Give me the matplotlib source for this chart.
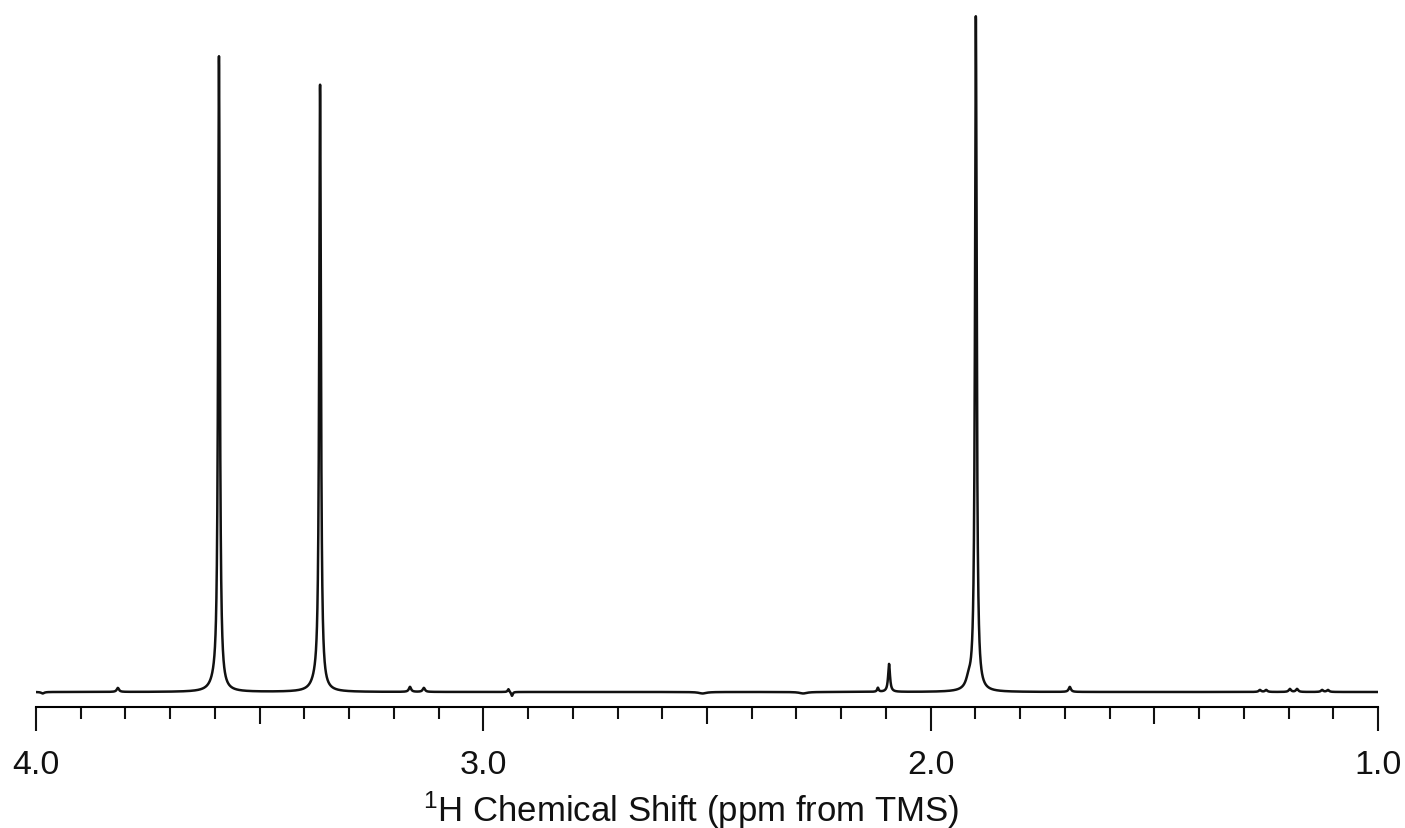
import numpy as np
import matplotlib.pyplot as plt

plt.rcParams['font.family'] = ['Liberation Sans', 'DejaVu Sans']
plt.rcParams['mathtext.default'] = 'regular'

# Peak list: shift (ppm), height (arb.), half width (ppm)
shifts = [3.591, 3.365, 1.899, 2.093, 2.118, 1.915, 3.600, 3.375,
          3.817, 3.164, 3.133, 2.944, 2.936, 1.689,
          1.264, 1.250, 1.197, 1.181, 1.125, 1.112,
          2.510, 2.285, 3.985]
heights = [632, 604, 675, 28, 4, 9, 6, 6,
           4, 5, 4, 3, -4, 5,
           2, 2, 3, 3, 2, 2,
           -1.5, -1.5, -1.5]
widths = [0.0023, 0.0023, 0.0023, 0.0025, 0.002, 0.007, 0.012, 0.012,
          0.003, 0.003, 0.003, 0.002, 0.002, 0.003,
          0.003, 0.003, 0.003, 0.003, 0.003, 0.003,
          0.01, 0.01, 0.004]

ppm = np.linspace(4.0, 1.0, 12000)
spectrum = np.zeros_like(ppm)
for x0, h, g in zip(shifts, heights, widths):
    spectrum += h * g**2 / ((ppm - x0)**2 + g**2)

fig = plt.figure(figsize=(14.05, 8.29), dpi=100)
ax = fig.add_axes([36/1405, 1 - 708/829, 1342/1405, 698/829])
ax.plot(ppm, spectrum, color='#111111', lw=1.8)

ax.set_xlim(4.0, 1.0)
ax.set_ylim(-15, 683)
for s in ['top', 'left', 'right']:
    ax.spines[s].set_visible(False)
ax.spines['bottom'].set_linewidth(1.5)
ax.set_yticks([])

major = np.arange(1.0, 4.01, 0.5)
ax.set_xticks(major)
ax.set_xticklabels(['%.1f' % v if abs(v - round(v)) < 1e-6 else '' for v in major])
ax.set_xticks(np.arange(1.0, 4.01, 0.1), minor=True)
ax.tick_params(axis='x', which='major', direction='out', length=17, width=1.5,
               labelsize=24.5, pad=13, colors='#111111')
ax.tick_params(axis='x', which='minor', direction='out', length=8.6, width=1.5,
               colors='#111111')
for v, t in zip(major, ax.xaxis.get_major_ticks()):
    if abs(v - round(v)) > 1e-6:
        t.tick1line.set_markersize(12.2)

ax.set_xlabel(r'$^{1}$H Chemical Shift (ppm from TMS)', fontsize=25,
              color='#111111')
ax.xaxis.set_label_coords(0.488, -0.117)

fig.savefig('out.png', dpi=100)
